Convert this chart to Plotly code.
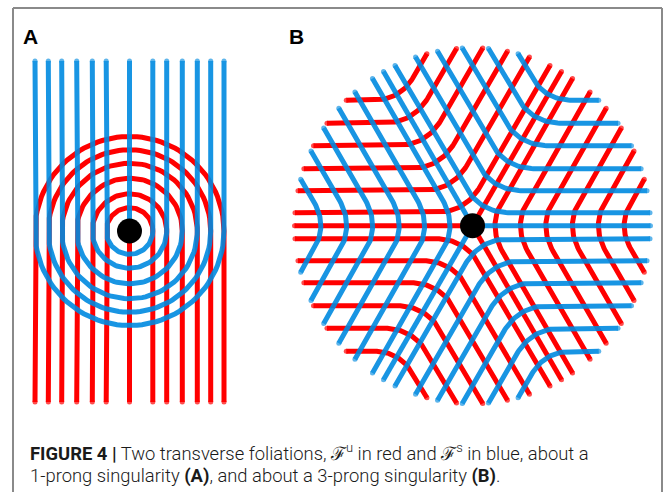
import numpy as np
import plotly.graph_objects as go

# ---------------- data ----------------
# Panel A (1-prong): half-widths of the U-shaped leaves (same for both foliations)
a_leaf_radii = [23.3, 37.2, 52.8, 67.8, 81.2, 94.5]
# Panel B (3-prong): distance of each leaf from the parallel prong
b_leaf_offsets = [13, 35, 57, 80, 102.5, 125.5]
red_prong_angles = [60, 180, 300]    # unstable foliation prongs (deg)
blue_prong_angles = [0, 120, 240]    # stable foliation prongs (deg)

caption_line1 = ("<b>FIGURE 4 |</b> Two transverse foliations, \u2131<sup>u</sup> in red and "
                 "\u2131<sup>s</sup> in blue, about a")
caption_line2 = "1-prong singularity <b>(A)</b>, and about a 3-prong singularity <b>(B)</b>."

# ---------------- layout constants ----------------
W, H = 665, 492
A_CX, A_CY, A_TOP, A_BOT = 129.5, 231.0, 61.0, 402.0
B_CX, B_CY, B_R = 472.5, 225.7, 178.0
DOT_R = 12.5
LW = 5
RED = "#ff0000"
BLUE = "rgb(0,138,224)"
BLUE_OP = 0.9
ROUND = 30.0


def d(theta_deg):
    t = np.deg2rad(theta_deg)
    return np.array([np.cos(t), -np.sin(t)])


class PathSet:
    def __init__(self):
        self.x, self.y, self.s = [], [], []

    def add(self, pts):
        pts = np.asarray(pts)
        n = len(pts)
        for i, (px, py) in enumerate(pts):
            self.x.append(px)
            self.y.append(py)
            self.s.append(LW if i in (0, n - 1) else 0)
        self.x.append(None)
        self.y.append(None)
        self.s.append(0)


# ---- Panel A ----
red_a, blue_a = PathSet(), PathSet()
th = np.linspace(np.pi, 0, 60)
for r in a_leaf_radii:
    arc_up = np.c_[A_CX + r * np.cos(th), A_CY - r * np.sin(th)]
    red_a.add(np.vstack([[A_CX - r, A_BOT], arc_up, [A_CX + r, A_BOT]]))
    arc_dn = np.c_[A_CX + r * np.cos(th), A_CY + r * np.sin(th)]
    blue_a.add(np.vstack([[A_CX - r, A_TOP], arc_dn, [A_CX + r, A_TOP]]))
red_a.add([[A_CX, A_CY], [A_CX, A_BOT]])
blue_a.add([[A_CX, A_TOP], [A_CX, A_CY]])

# ---- Panel B ----
C = np.array([B_CX, B_CY])


def chevrons(apex_angles, ps):
    for phi in apex_angles:
        u1, u2 = d(phi + 60), d(phi - 60)
        for p in b_leaf_offsets:
            c = p / np.sin(np.deg2rad(60))
            A = C + c * d(phi)
            s = -c / 2 + np.sqrt(B_R ** 2 - 0.75 * c ** 2)
            t = min(ROUND, s * 0.5)
            P1, P2 = A + t * u1, A + t * u2
            q = np.linspace(0, 1, 30)[:, None]
            bez = (1 - q) ** 2 * P1 + 2 * (1 - q) * q * A + q ** 2 * P2
            ps.add(np.vstack([A + s * u1, bez, A + s * u2]))


def prongs(angles, ps):
    for phi in angles:
        ps.add([C, C + B_R * d(phi)])


red_b, blue_b = PathSet(), PathSet()
chevrons(blue_prong_angles, red_b)   # red leaves kink on blue prongs
prongs(red_prong_angles, red_b)
chevrons(red_prong_angles, blue_b)   # blue leaves kink on red prongs
prongs(blue_prong_angles, blue_b)

fig = go.Figure()
for ps, col, op in [(red_a, RED, 1), (red_b, RED, 1), (blue_a, BLUE, BLUE_OP), (blue_b, BLUE, BLUE_OP)]:
    fig.add_trace(go.Scatter(x=ps.x, y=ps.y, mode="lines+markers",
                             line=dict(color=col, width=LW),
                             marker=dict(color=col, size=ps.s, line=dict(width=0)),
                             opacity=op, hoverinfo="skip", showlegend=False))

shapes = []
for cx, cy in [(A_CX, A_CY), (B_CX, B_CY)]:
    shapes.append(dict(type="circle", xref="x", yref="y", x0=cx - DOT_R, x1=cx + DOT_R,
                       y0=cy - DOT_R, y1=cy + DOT_R, fillcolor="black", line=dict(width=0),
                       layer="above"))
frame = dict(color="#8a8a8a", width=2)
shapes += [
    dict(type="line", xref="x", yref="y", x0=13, x1=662, y0=8, y1=8, line=frame),
    dict(type="line", xref="x", yref="y", x0=13, x1=13, y0=8, y1=H + 5, line=frame),
    dict(type="line", xref="x", yref="y", x0=662, x1=662, y0=8, y1=H + 5, line=frame),
]

cap_font = dict(family="Roboto", size=18.4, color="#1a1a1a", weight=300)
ann = [
    dict(x=21, y=36, text="<b>A</b>", xanchor="left", yanchor="middle", showarrow=False,
         font=dict(family="Liberation Sans", size=21, color="black")),
    dict(x=287, y=36, text="<b>B</b>", xanchor="left", yanchor="middle", showarrow=False,
         font=dict(family="Liberation Sans", size=21, color="black")),
    dict(x=28, y=452, text=caption_line1, xanchor="left", yanchor="middle", showarrow=False,
         font=cap_font),
    dict(x=28, y=476, text=caption_line2, xanchor="left", yanchor="middle", showarrow=False,
         font=cap_font),
]

fig.update_layout(
    width=W, height=H, margin=dict(l=0, r=0, t=0, b=0),
    paper_bgcolor="white", plot_bgcolor="white",
    xaxis=dict(range=[0, W], visible=False, fixedrange=True),
    yaxis=dict(range=[H, 0], visible=False, fixedrange=True),
    shapes=shapes, annotations=ann,
)
fig.write_html("out.html")
